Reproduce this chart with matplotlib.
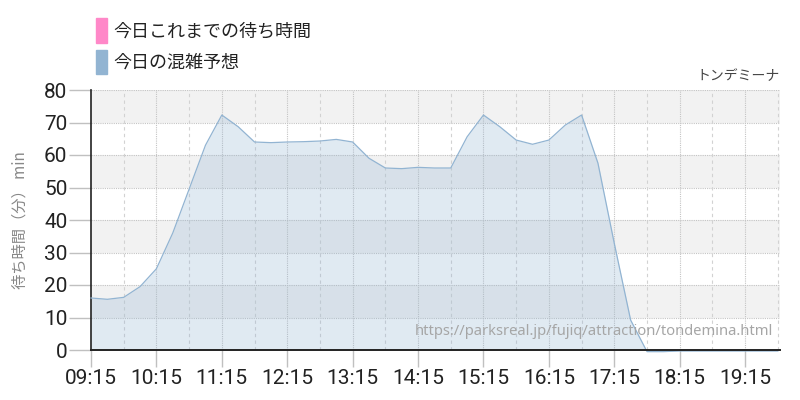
import matplotlib
matplotlib.use("Agg")
import matplotlib.pyplot as plt
from matplotlib.patches import Patch

plt.rcParams['font.family'] = ['Noto Sans CJK JP', 'DejaVu Sans']

# ---- data ----
times = ["09:15", "09:30", "09:45", "10:00", "10:15", "10:30", "10:45", "11:00",
         "11:15", "11:30", "11:45", "12:00", "12:15", "12:30", "12:45", "13:00",
         "13:15", "13:30", "13:45", "14:00", "14:15", "14:30", "14:45", "15:00",
         "15:15", "15:30", "15:45", "16:00", "16:15", "16:30", "16:45", "17:00",
         "17:15", "17:30", "17:45", "18:00", "18:15", "18:30", "18:45", "19:00",
         "19:15", "19:30", "19:45"]
forecast = [16, 15.6, 16.2, 19.5, 25, 36, 49.5, 63,
            72.3, 68.7, 64, 63.8, 64, 64.1, 64.3, 64.8,
            64, 59, 56, 55.8, 56.2, 56, 56, 65.6,
            72.3, 68.7, 64.6, 63.3, 64.6, 69.2, 72.3, 57.5,
            32.8, 9.2, -0.5, -0.5, -0.3, -0.3, -0.3, -0.3,
            -0.3, -0.3, -0.3]
x_tick_labels = ["09:15", "10:15", "11:15", "12:15", "13:15", "14:15",
                 "15:15", "16:15", "17:15", "18:15", "19:15"]
y_ticks = [0, 10, 20, 30, 40, 50, 60, 70, 80]
legend_labels = ["今日これまでの待ち時間", "今日の混雑予想"]
title = "トンデミーナ"
y_label = "待ち時間（分） min"
url = "https://parksreal.jp/fujiq/attraction/tondemina.html"


def to_h(s):
    h, m = s.split(":")
    return int(h) + int(m) / 60.0


xs = [to_h(t) for t in times]
xt = [to_h(t) for t in x_tick_labels]

tick_font = dict(family="Roboto", stretch="condensed")

fig = plt.figure(figsize=(8, 4), dpi=100)
ax = fig.add_axes([91 / 800, 1 - 350 / 400, (780 - 91) / 800, (350 - 90) / 400])

x0, x1 = to_h("09:15"), to_h("19:47")
ax.set_xlim(x0, x1)
ax.set_ylim(0, 80)

# alternating bands
for lo in range(10, 80, 20):
    ax.axhspan(lo, lo + 10, color="#f2f2f2", zorder=0, lw=0)

# grid
for y in y_ticks[1:]:
    ax.axhline(y, color="#c4c4c4", lw=0.8, ls=(0, (1, 1)), zorder=1)
for t in xt[1:]:
    ax.axvline(t, color="#c4c4c4", lw=0.8, ls=(0, (1, 1)), zorder=1)
h = x0 + 0.5
while h < x1:
    ax.axvline(h, color="#d2d2d2", lw=0.8, ls=(0, (3, 3)), zorder=1)
    h += 1.0

blue = "#92b4d2"
ax.fill_between(xs, forecast, 0, color=blue, alpha=0.28, lw=0, zorder=2, clip_on=False)
ax.plot(xs, forecast, color=blue, lw=0.9, zorder=3, clip_on=False)

ax.set_xticks(xt)
ax.set_xticklabels(x_tick_labels, fontsize=15, color="#222222", **tick_font)
ax.set_yticks(y_ticks)
ax.set_yticklabels([str(v) for v in y_ticks], fontsize=15, color="#222222", **tick_font)
ax.tick_params(axis="y", length=16, color="#c0c0c0", width=1, pad=1)
ax.tick_params(axis="x", length=12, color="#c0c0c0", width=1, pad=2)

for s in ["top", "right"]:
    ax.spines[s].set_visible(False)
ax.spines["left"].set_color("#222222")
ax.spines["bottom"].set_color("#222222")
ax.spines["left"].set_linewidth(1.2)
ax.spines["bottom"].set_linewidth(1.4)
ax.spines["bottom"].set_zorder(4)

fig.text(20 / 800, 1 - 220 / 400, y_label, rotation=90, ha="center", va="center",
         fontsize=11, color="#888888")
fig.text(780 / 800, 1 - 76 / 400, title, ha="right", va="center", fontsize=10,
         color="#444444")
ax.text(0.99, 0.07, url, transform=ax.transAxes, ha="right", va="center",
        fontsize=10.6, color="#a6a6a6", zorder=5,
        family=["Noto Sans", "DejaVu Sans"])

handles = [Patch(color="#ff88c8"), Patch(color=blue)]
fig.legend(handles, legend_labels, loc="upper left",
           bbox_to_anchor=(80 / 800, 1 - 2 / 400), frameon=False,
           fontsize=13, handlelength=0.6, handleheight=1.75, handletextpad=0.35,
           labelspacing=0.35, labelcolor="#222222")

fig.savefig("out.png", dpi=100)
